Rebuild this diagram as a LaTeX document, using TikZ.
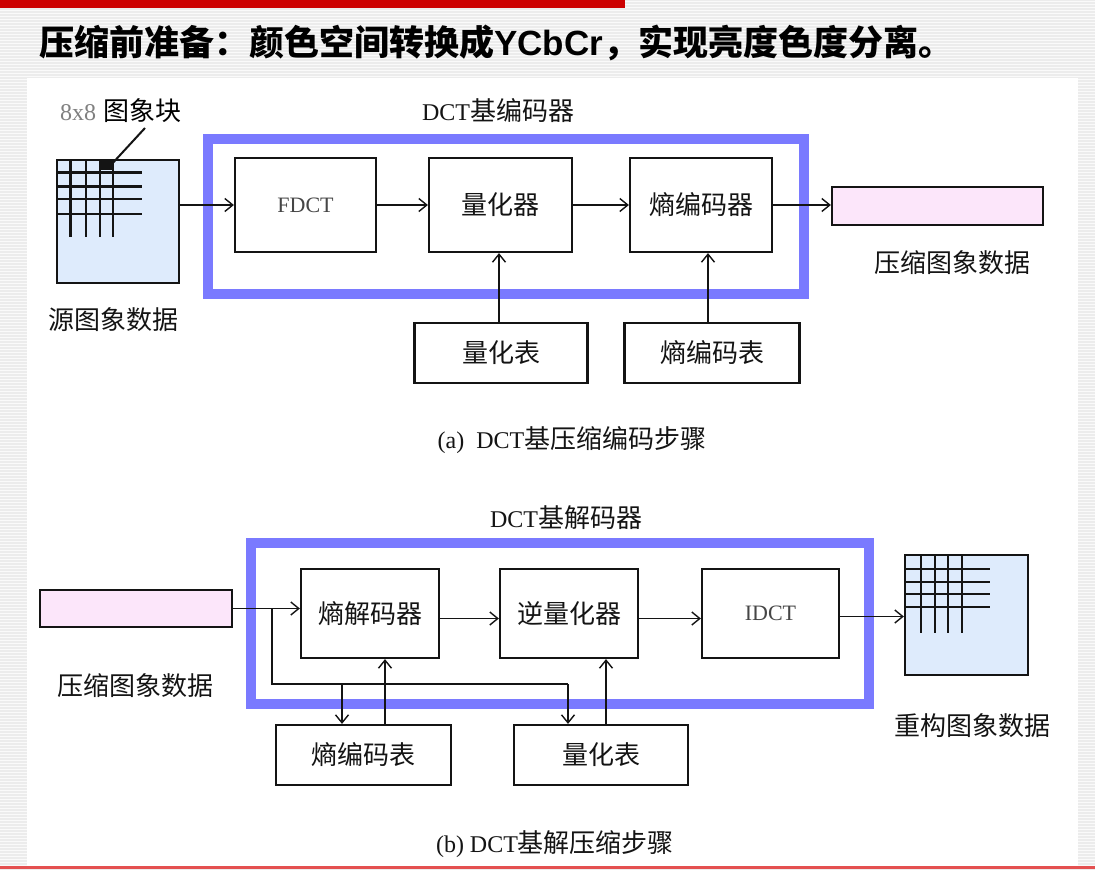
\documentclass[tikz,border=0pt]{standalone}
\usepackage{fontspec}
\setmainfont{Liberation Serif}
\newfontfamily\cjk{Noto Sans CJK SC}
\newfontfamily\arialf{Liberation Sans}
\usetikzlibrary{arrows.meta}
\definecolor{bluebox}{RGB}{122,122,255}
\definecolor{pinkfill}{RGB}{252,230,250}
\definecolor{bluefill}{RGB}{222,235,252}
\definecolor{slidered}{RGB}{204,0,0}
\definecolor{bottomred}{RGB}{228,80,80}
\definecolor{stripe}{RGB}{236,236,236}
\definecolor{inkc}{RGB}{20,20,20}
\definecolor{latgray}{RGB}{70,70,70}
\begin{document}
\begin{tikzpicture}[x=1pt,y=-1pt,
  blk/.style={draw=inkc, line width=2.2pt, inner sep=0pt, font=\cjk\fontsize{26}{26}\selectfont, text=inkc},
  lbl/.style={inner sep=0pt, font=\cjk\fontsize{26}{26}\selectfont, text=inkc},
  conn/.style={line width=1.8pt, draw=inkc, -{Straight Barb[length=8pt,width=13pt,line width=1.4pt]}},
  plainline/.style={line width=1.8pt, draw=inkc},
  gridline/.style={line width=2.8pt, draw=inkc},
  frame/.style={draw=bluebox, line width=10pt}
]
\useasboundingbox (0,0) rectangle (1095,870);
% slide background
\fill[stripe] (0,0) rectangle (1095,870);
\foreach \yy in {1,4,...,870} \draw[white, line width=1pt, opacity=0.75] (0,\yy) -- (1095,\yy);
\fill[white] (27,78) rectangle (1078,866);
\fill[slidered] (0,0) rectangle (625,8);
\fill[bottomred] (0,866) rectangle (1095,869);

% title
\node[anchor=west, inner sep=0pt, text=black, font=\cjk\bfseries\fontsize{35}{35}\selectfont] (title) at (39,43)
  {压缩前准备：颜色空间转换成{\arialf\bfseries YCbCr}，实现亮度色度分离。};

% ================= (a) encoder =================
\draw[frame] (208,138.5) rectangle (804,294);
\node[lbl] (enclbl) at (498,111) {{\rmfamily\fontsize{24}{24}\selectfont DCT}基编码器};

% source image block
\node[blk, fill=bluefill, minimum width=122pt, minimum height=123pt] (src) at (118,221.5) {};
\foreach \xx in {70.7,86,100,113} \draw[gridline] (\xx,160) -- (\xx,237);
\foreach \yy in {172.7,186.7,199,214} \draw[gridline] (57,\yy) -- (142,\yy);
\fill[inkc] (101,160) rectangle (112,170);
\node[inner sep=0pt, anchor=west] (blklbl) at (60,111)
  {{\rmfamily\fontsize{24}{24}\selectfont\color{gray}8x8}\hspace{7pt}{\cjk\fontsize{26}{26}\selectfont 图象块}};
\coordinate (ptrA) at (145,128);
\coordinate (ptrB) at (110,166);
\draw[plainline, line width=2pt] (ptrA) -- (ptrB);
\node[lbl] (srclbl) at (113,320) {源图象数据};

\node[blk, minimum width=141pt, minimum height=94pt] (fdct) at (305.5,205)
  {\rmfamily\fontsize{22}{22}\selectfont\color{latgray}FDCT};
\node[blk, minimum width=143pt, minimum height=94pt] (quant) at (500.5,205) {量化器};
\node[blk, minimum width=142pt, minimum height=94pt] (ent) at (701,205) {熵编码器};
\node[blk, fill=pinkfill, minimum width=211pt, minimum height=38pt] (outa) at (937.5,206) {};
\node[lbl] (outalbl) at (952,263) {压缩图象数据};

\node[blk, minimum width=173pt, minimum height=60pt] (qtab) at (501,353) {量化表};
\node[blk, minimum width=175pt, minimum height=60pt] (etab) at (712,353) {熵编码表};

\draw[conn] (src.east |- fdct.west) -- (fdct.west);
\draw[conn] (fdct.east) -- (quant.west);
\draw[conn] (quant.east) -- (ent.west);
\draw[conn] (ent.east) -- (ent.east -| outa.west);
\draw[conn] ([xshift=-2pt]qtab.north) -- ([xshift=-2pt]qtab.north |- quant.south);
\draw[conn] ([xshift=-4pt]etab.north) -- ([xshift=-4pt]etab.north |- ent.south);

\node[lbl] (capa) at (572,440) {{\rmfamily\fontsize{24}{24}\selectfont (a)\ \ DCT}基压缩编码步骤};

% ================= (b) decoder =================
\draw[frame] (251,543) rectangle (869,703.5);
\node[lbl] (declbl) at (566,518) {{\rmfamily\fontsize{24}{24}\selectfont DCT}基解码器};

\node[blk, fill=pinkfill, minimum width=192pt, minimum height=37pt] (inb) at (136,608.5) {};
\node[lbl] (inblbl) at (135,686) {压缩图象数据};

\node[blk, minimum width=138pt, minimum height=89pt] (edec) at (370,613.5) {熵解码器};
\node[blk, minimum width=138pt, minimum height=89pt] (iq) at (569,613.5) {逆量化器};
\node[blk, minimum width=137pt, minimum height=89pt] (idct) at (770.5,613.5)
  {\rmfamily\fontsize{22}{22}\selectfont\color{latgray}IDCT};

\node[blk, fill=bluefill, minimum width=123pt, minimum height=120pt] (outb) at (966.5,615) {};
\foreach \xx in {921,935,948,962} \draw[gridline] (\xx,555) -- (\xx,633);
\foreach \yy in {569,582,594,607} \draw[gridline] (905,\yy) -- (990,\yy);
\node[lbl] (outblbl) at (972,726) {重构图象数据};

\node[blk, minimum width=175pt, minimum height=60pt] (etab2) at (363.5,755) {熵编码表};
\node[blk, minimum width=174pt, minimum height=60pt] (qtab2) at (601,755) {量化表};

\coordinate (br) at (272,609);
\coordinate (bl) at (272,684);
\coordinate (b1) at (342,684);
\coordinate (b2) at (568,684);

\draw[conn] (inb.east) -- (inb.east -| edec.west);
\draw[plainline] (br) -- (bl) -- (b2);
\draw[conn] (b2) -- (b2 |- qtab2.north);
\draw[conn] (b1) -- (b1 |- etab2.north);
\draw[conn] ([xshift=21.5pt]etab2.north) -- ([xshift=21.5pt]etab2.north |- edec.south);
\draw[conn] ([xshift=5pt]qtab2.north) -- ([xshift=5pt]qtab2.north |- iq.south);
\draw[conn] ([yshift=-5pt]edec.east) -- ([yshift=-5pt]iq.west);
\draw[conn] ([yshift=-5pt]iq.east) -- ([yshift=-5pt]idct.west);
\draw[conn] ([yshift=-3pt]idct.east) -- ([yshift=-3pt]idct.east -| outb.west);

\node[lbl] (capb) at (555,844) {{\rmfamily\fontsize{24}{24}\selectfont (b) DCT}基解压缩步骤};
\end{tikzpicture}
\end{document}
